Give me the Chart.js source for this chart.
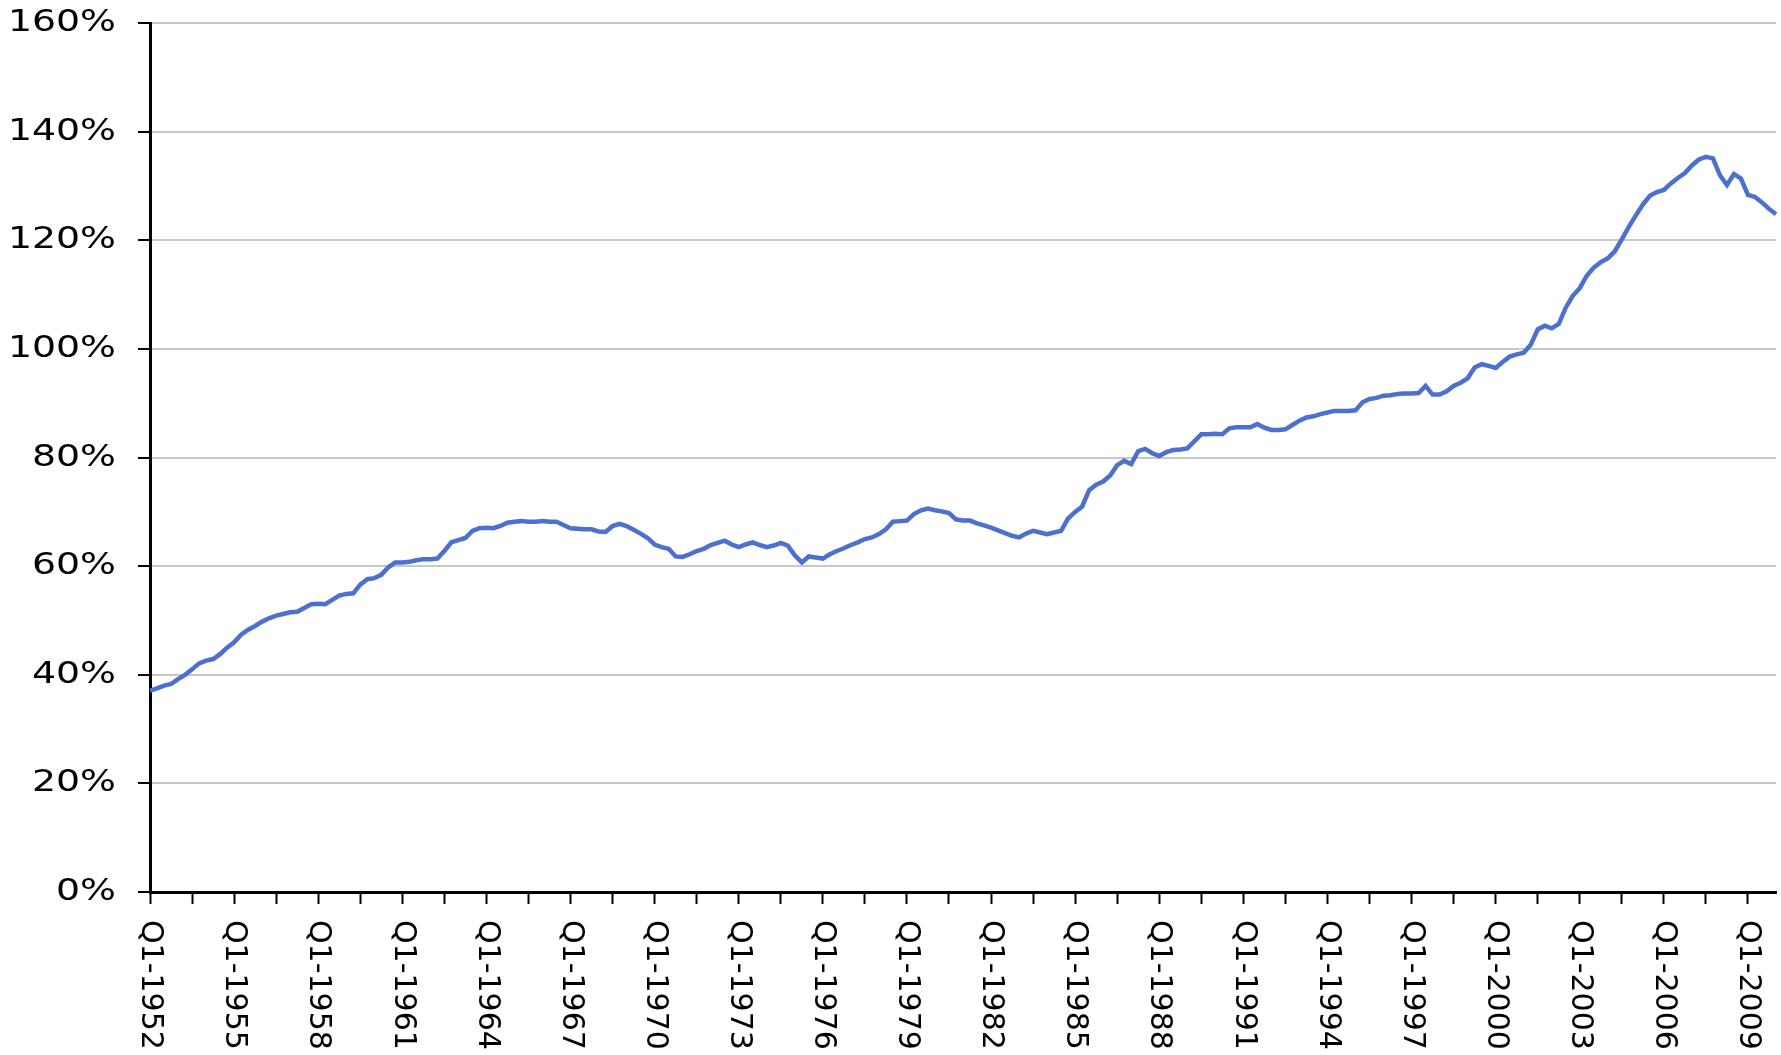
<!DOCTYPE html>
<html>
<head>
<meta charset="utf-8">
<script src="https://cdn.jsdelivr.net/npm/chart.js@4.4.1/dist/chart.umd.min.js"></script>
<style>
  html, body { margin: 0; padding: 0; background: #fff; }
  #wrap { width: 1781px; height: 1055px; }
</style>
</head>
<body>
<div id="wrap"><canvas id="ratioChart"></canvas></div>
<script>
// quarters Q1-1952 .. Q1-2010
const startYear = 1952;
const quarterCount = 233;
const quarterLabels = [];
for (let i = 0; i < quarterCount; i++) {
    quarterLabels.push('Q' + (i % 4 + 1) + '-' + (startYear + Math.floor(i / 4)));
}

// ratio in percent
const ratioValues = [
    37.1, 37.5, 38.0, 38.3, 39.2, 40.0, 41.0, 42.1, 42.6, 42.9,
    43.8, 45.0, 46.0, 47.4, 48.3, 49.0, 49.8, 50.4, 50.9, 51.2,
    51.5, 51.6, 52.3, 53.0, 53.1, 53.0, 53.8, 54.6, 54.9, 55.0,
    56.6, 57.6, 57.8, 58.4, 59.8, 60.7, 60.7, 60.8, 61.1, 61.3,
    61.3, 61.4, 62.8, 64.4, 64.8, 65.2, 66.5, 67.0, 67.1, 67.0,
    67.4, 68.0, 68.2, 68.3, 68.2, 68.2, 68.3, 68.2, 68.2, 67.6,
    67.0, 66.9, 66.8, 66.8, 66.4, 66.3, 67.4, 67.8, 67.4, 66.7,
    66.0, 65.2, 64.0, 63.5, 63.2, 61.8, 61.7, 62.2, 62.8, 63.2,
    63.9, 64.3, 64.7, 64.0, 63.5, 64.0, 64.4, 63.9, 63.5, 63.8,
    64.3, 63.8, 62.0, 60.7, 61.8, 61.6, 61.4, 62.2, 62.8, 63.3,
    63.9, 64.4, 65.0, 65.3, 65.9, 66.8, 68.2, 68.3, 68.4, 69.6,
    70.3, 70.6, 70.3, 70.1, 69.8, 68.6, 68.4, 68.4, 67.9, 67.5,
    67.1, 66.6, 66.1, 65.6, 65.3, 66.0, 66.5, 66.2, 65.9, 66.2,
    66.5, 68.8, 70.0, 71.0, 74.0, 75.0, 75.6, 76.7, 78.6, 79.4,
    78.8, 81.2, 81.6, 80.8, 80.3, 81.0, 81.4, 81.5, 81.7, 83.0,
    84.3, 84.3, 84.4, 84.3, 85.4, 85.6, 85.6, 85.6, 86.2, 85.5,
    85.1, 85.1, 85.2, 86.0, 86.8, 87.4, 87.6, 88.0, 88.3, 88.6,
    88.6, 88.6, 88.7, 90.2, 90.8, 91.0, 91.4, 91.5, 91.7, 91.8,
    91.8, 91.9, 93.2, 91.6, 91.6, 92.2, 93.2, 93.8, 94.6, 96.6,
    97.2, 96.9, 96.5, 97.6, 98.6, 99.0, 99.3, 100.8, 103.6, 104.3,
    103.8, 104.6, 107.6, 109.8, 111.2, 113.5, 115.0, 116.0, 116.7, 118.0,
    120.2, 122.5, 124.6, 126.6, 128.2, 128.9, 129.3, 130.5, 131.5, 132.4,
    133.8, 134.9, 135.4, 135.1, 132.0, 130.2, 132.2, 131.4, 128.4, 128.0,
    127.0, 125.8, 124.8
];

const yTickValues = [0, 20, 40, 60, 80, 100, 120, 140, 160];

// axis labels drawn by hand: x labels read top to bottom, y labels a bit wide, like the original
const axisLabelPlugin = {
    id: 'axisLabels',
    afterDraw(chart) {
        const xs = chart.scales.x;
        const ys = chart.scales.y;
        const ctx = chart.ctx;
        ctx.save();
        ctx.fillStyle = '#000';

        ctx.font = '30px "DejaVu Sans"';
        ctx.textAlign = 'left';
        ctx.textBaseline = 'middle';
        quarterLabels.forEach(function (lab, i) {
            if (i % 12 !== 0) return;
            const x = xs.getPixelForValue(i);
            ctx.save();
            ctx.translate(x, xs.top + 28);
            ctx.rotate(Math.PI / 2);
            ctx.fillText(lab, 0, 0);
            ctx.restore();
        });

        ctx.font = '31px "DejaVu Sans"';
        ctx.textAlign = 'right';
        ctx.textBaseline = 'middle';
        yTickValues.forEach(function (v) {
            const y = ys.getPixelForValue(v);
            ctx.save();
            ctx.translate(116, y);
            ctx.scale(1.22, 1);
            ctx.fillText(v + '%', 0, 0);
            ctx.restore();
        });
        ctx.restore();
    }
};

const ctx = document.getElementById('ratioChart').getContext('2d');
new Chart(ctx, {
    type: 'line',
    data: {
        labels: quarterLabels,
        datasets: [{
            label: 'Ratio',
            data: ratioValues,
            borderColor: '#4c70cf',
            borderWidth: 4.5,
            pointRadius: 0,
            tension: 0,
            fill: false
        }]
    },
    options: {
        responsive: true,
        maintainAspectRatio: false,
        animation: false,
        layout: { padding: { top: 23, right: 5, left: 0, bottom: 0 } },
        scales: {
            x: {
                offset: false,
                grid: {
                    drawOnChartArea: false,
                    drawTicks: true,
                    tickLength: 12,
                    tickWidth: 2,
                    tickColor: function (c) { return c.index % 6 === 0 ? '#000' : 'rgba(0,0,0,0)'; }
                },
                border: { color: '#000', width: 3 },
                ticks: { display: false, autoSkip: false },
                afterFit: function (scale) { scale.height = 163; }
            },
            y: {
                min: 0,
                max: 160,
                afterBuildTicks: function (scale) {
                    scale.ticks = yTickValues.map(v => ({ value: v }));
                },
                grid: {
                    color: '#c8c8c8',
                    lineWidth: 2,
                    drawTicks: true,
                    tickLength: 12,
                    tickColor: '#000',
                    tickWidth: 2
                },
                border: { color: '#000', width: 3 },
                ticks: {
                    color: 'rgba(0,0,0,0)',
                    padding: 22,
                    font: { family: 'DejaVu Sans', size: 2 },
                    callback: function (v) { return v + '%'; }
                },
                afterFit: function (scale) { scale.width = 150; }
            }
        },
        plugins: {
            legend: { display: false },
            title: { display: false },
            tooltip: { enabled: false }
        }
    },
    plugins: [axisLabelPlugin]
});
</script>
</body>
</html>
